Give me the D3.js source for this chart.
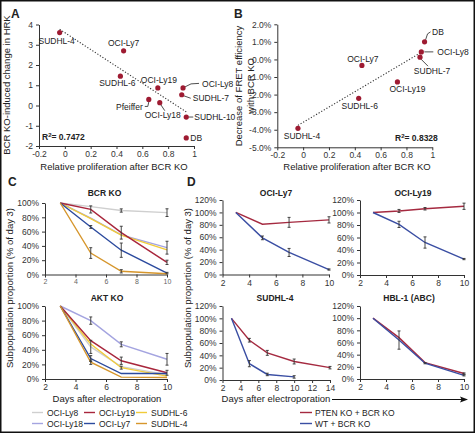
<!DOCTYPE html>
<html><head><meta charset="utf-8">
<script src="https://cdn.jsdelivr.net/npm/d3@7"></script>
<style>
body{margin:0;background:#fff}
svg{display:block}
</style></head><body>
<script>
// ---------------- DATA ----------------
// Panel A
const aCells = ["SUDHL-4","OCI-Ly7","SUDHL-6","OCI-Ly19","OCI-Ly8","SUDHL-7","Pfeiffer","OCI-Ly18","SUDHL-10","DB"];
const aProlif = [-0.04,0.455,0.43,0.72,0.915,0.905,0.65,0.735,0.94,0.94];
const aHRK = [3.6,2.7,1.45,0.87,0.87,0.53,0.3,0.14,-0.57,-1.6];
const aR2 = "0.7472";
// Panel B
const bCells = ["SUDHL-4","OCI-Ly7","SUDHL-6","OCI-Ly19","OCI-Ly8","SUDHL-7","DB"];
const bProlif = [-0.04,0.455,0.43,0.73,0.915,0.905,0.94];
const bFRET = [-3.92,-0.34,-2.21,-1.28,0.43,0.13,1.0];
const bR2 = "0.8328";
const prolifTicks = [-0.2,0,0.2,0.4,0.6,0.8,1];
const hrkTicks = [-2,-1,0,1,2,3,4];
const fretTicks = [-5,-4,-3,-2,-1,0,1,2];
// Panel C
const cCells = ["OCI-Ly8","OCI-Ly18","SUDHL-6","OCI-Ly19","OCI-Ly7","SUDHL-4"];
const cDays = [3,5,7,10];
const bcrKO = [
  [1,0.95,0.895,0.865],
  [1,0.79,0.555,0.375],
  [1,0.78,0.55,0.345],
  [1,0.91,0.585,0.17],
  [1,0.665,0.34,0.02],
  [1,0.30,0.045,0.01]];
const bcrKOErr = [
  [0,0,0.023,0.054],
  [0,0,0,0.09],
  [0,0,0,0],
  [0,0.05,0.09,0.03],
  [0,0.02,0.10,0.01],
  [0,0.075,0.023,0]];
const aktKO = [
  [1,0.44,0.17,0.06],
  [1,0.80,0.475,0.27],
  [1,0.48,0.155,0.04],
  [1,0.525,0.25,0.085],
  [1,0.28,0.075,0.075],
  [1,0.23,0.025,0.02]];
const aktKOErr = [
  [0,0.09,0,0],
  [0,0.05,0.034,0.08],
  [0,0,0.02,0],
  [0,0,0.05,0.034],
  [0,0.04,0,0],
  [0,0.03,0,0]];
const cXTicks = [2,4,6,8,10];
const pctTicks100 = [0,0.2,0.4,0.6,0.8,1];
// Panel D
const dSeries = ["PTEN KO + BCR KO","WT + BCR KO"];
const dDays = [3,5,7,10];
const dDaysLong = [3,5,7,10,14];
const ly7PTEN = [1,0.81,0.84,0.88],  ly7PTENErr = [0,0,0.08,0.05];
const ly7WT = [1,0.59,0.355,0.08],   ly7WTErr = [0,0.03,0.065,0.01];
const ly19PTEN = [1,1.025,1.06,1.10], ly19PTENErr = [0,0.024,0.02,0.05];
const ly19WT = [1,0.81,0.52,0.255],  ly19WTErr = [0,0.05,0.09,0.01];
const su4PTEN = [1,0.645,0.44,0.30,0.20], su4PTENErr = [0,0.03,0.04,0.04,0.02];
const su4WT = [1,0.265,0.09,0.05],   su4WTErr = [0,0.05,0.02,0.02];
const hblPTEN = [1,0.68,0.27,0.09],  hblPTENErr = [0,0,0,0.01];
const hblWT = [1,0.64,0.26,0.06],    hblWTErr = [0,0.15,0.01,0.01];
const pctTicks120 = [0,0.2,0.4,0.6,0.8,1,1.2];
const dXTicks = [2,4,6,8,10];
const dXTicksLong = [2,4,6,8,10,12,14];

// ---------------- STYLE / LAYOUT ----------------
const FONT = '"Liberation Sans Narrow","Arial Narrow","Liberation Sans",Arial,sans-serif';
const AX = "#333";
const DOT = "#9e1b32";
const cColors = ["#cfcfcf","#a4a4e0","#f1cb3a","#a8263c","#2b4a9e","#d6962c"];
const dColors = ["#a52a40","#3a4ea3"];

const W = 475, H = 433;
const svg = d3.select("body").append("svg").attr("width",W).attr("height",H);
svg.append("rect").attr("x",0.75).attr("y",0.75).attr("width",W-1.5).attr("height",H-1.5)
  .attr("fill","#fff").attr("stroke","#111").attr("stroke-width",1.5);

function txt(g, x, y, s, o={}) {
  return g.append("text").attr("x",x).attr("y",y).text(s)
    .attr("font-family",FONT).attr("font-size",o.fs||9)
    .attr("font-weight",o.bold?"bold":"normal")
    .attr("text-anchor",o.anchor||"start").attr("fill",o.fill||"#222");
}
function axes(g, x, y, o) {
  const xa = g.append("g").attr("transform",`translate(0,${y.range()[0]})`)
    .call(d3.axisBottom(x).tickValues(o.xTicks).tickFormat(o.xFmt).tickSizeInner(3).tickSizeOuter(0).tickPadding(2));
  const ya = g.append("g").attr("transform",`translate(${x.range()[0]},0)`)
    .call(d3.axisLeft(y).tickValues(o.yTicks).tickFormat(o.yFmt).tickSizeInner(3).tickSizeOuter(0));
  [xa,ya].forEach(a=>{
    a.select(".domain").attr("stroke",AX).attr("stroke-width",1);
    a.selectAll(".tick line").attr("stroke",AX);
    a.selectAll("text").attr("font-family",FONT).attr("font-size",o.fs||8.5).attr("fill","#333");
  });
  if (o.xfs) xa.selectAll("text").attr("font-size",o.xfs).attr("fill",o.xfill||"#333");
}
const numFmt = d => d===0 ? "0" : (Number.isInteger(d) ? String(d) : d.toFixed(1));
const pctFmt0 = d => Math.round(d*100)+"%";
const pctFmt1 = d => d.toFixed(1)+"%";

function regression(xs, ys) {
  const mx = d3.mean(xs), my = d3.mean(ys);
  let sxy=0, sxx=0;
  xs.forEach((v,i)=>{ sxy += (v-mx)*(ys[i]-my); sxx += (v-mx)*(v-mx); });
  const m = sxy/sxx; return {m, b: my - m*mx};
}

function scatter(g, x, y, xs, ys, names, lab) {
  const r = regression(xs, ys);
  const x0 = d3.min(xs), x1 = d3.max(xs);
  g.append("line").attr("x1",x(x0)).attr("y1",y(r.m*x0+r.b)).attr("x2",x(x1)).attr("y2",y(r.m*x1+r.b))
    .attr("stroke","#333").attr("stroke-width",1.1).attr("stroke-dasharray","1.2,1.8");
  names.forEach((n,i)=>{
    const px = x(xs[i]), py = y(ys[i]);
    const L = lab[i];
    if (L[3]) {
      g.append("polyline").attr("points",L[3].map(p=>[px+p[0],py+p[1]].join(",")).join(" "))
        .attr("fill","none").attr("stroke","#222").attr("stroke-width",0.8);
    }
    txt(g, px+L[0], py+L[1], n, {fs:8.5, anchor:L[2]});
  });
  g.selectAll("circle.pt").data(xs).join("circle").attr("class","pt")
    .attr("cx",(d)=>x(d)).attr("cy",(d,i)=>y(ys[i])).attr("r",2.6).attr("fill",DOT);
}
function r2(g, x, y, val) {
  const t = g.append("text").attr("x",x).attr("y",y).attr("font-family",FONT)
    .attr("font-size",8.5).attr("font-weight","bold").attr("fill","#222");
  t.append("tspan").text("R");
  t.append("tspan").text("2").attr("font-size",6).attr("dy",-3.5);
  t.append("tspan").text("= "+val).attr("dy",3.5);
}
function rotText(g, cx, cy, s, fs) {
  g.append("text").attr("transform",`translate(${cx},${cy}) rotate(-90)`).attr("text-anchor","middle")
    .attr("font-family",FONT).attr("font-size",fs).attr("fill","#222").text(s);
}
function errBars(g, x, y, days, vals, errs) {
  days.forEach((d,i)=>{
    const e = errs[i]; if (!e) return;
    const px = x(d), y1 = y(vals[i]-e), y2 = y(vals[i]+e);
    g.append("line").attr("x1",px).attr("x2",px).attr("y1",y1).attr("y2",y2).attr("stroke","#333").attr("stroke-width",0.9);
    [y1,y2].forEach(yy=>g.append("line").attr("x1",px-1.5).attr("x2",px+1.5).attr("y1",yy).attr("y2",yy).attr("stroke","#333").attr("stroke-width",0.9));
  });
}
function seriesLine(g, x, y, days, vals, color) {
  g.append("path").datum(days.map((d,i)=>[d,vals[i]]))
    .attr("d", d3.line().x(p=>x(p[0])).y(p=>y(p[1])))
    .attr("fill","none").attr("stroke",color).attr("stroke-width",1.4);
}

// ---------------- PANEL A ----------------
const gA = svg.append("g");
const xA = d3.scaleLinear([-0.2,1],[39,194]);
const yA = d3.scaleLinear([-2,4],[146,24.5]);
axes(gA, xA, yA, {xTicks:prolifTicks, yTicks:hrkTicks, xFmt:numFmt, yFmt:d=>String(d)});
const aLab = [
  [-3,11,"middle"],
  [0,-5,"middle"],
  [-3,10,"middle"],
  [1,-5,"middle"],
  [19,-1,"start",[[2,-1],[8,-4],[16,-4.5]]],
  [11,6.5,"start",[[2,1],[9,3.5]]],
  [-6,10.5,"end",[[0,2.5],[-1,7],[-4,7]]],
  [3,15,"middle",[[1,2],[5,8]]],
  [8,3,"start",[[2,0],[7,0]]],
  [4,3,"start"]];
scatter(gA, xA, yA, aProlif, aHRK, aCells, aLab);
r2(gA, 42, 140, aR2);
rotText(gA, 10, 85, "BCR KO-induced change in HRK", 9.5);
txt(gA, 114, 170, "Relative proliferation after BCR KO", {fs:9.5, anchor:"middle"});
txt(gA, 11, 18, "A", {fs:12, bold:true});

// ---------------- PANEL B ----------------
const gB = svg.append("g");
const xB = d3.scaleLinear([-0.2,1],[277.3,432.3]);
const yB = d3.scaleLinear([-5,2],[147.3,24.3]);
axes(gB, xB, yB, {xTicks:prolifTicks, yTicks:fretTicks, xFmt:numFmt, yFmt:pctFmt1});
const bLab = [
  [4,11,"middle"],
  [1,-3.5,"middle"],
  [1,11,"middle"],
  [10,10,"middle"],
  [16,3,"start",[[3,0],[12,0]]],
  [12,16.5,"middle",[[1,2],[8,9]]],
  [7.5,-7,"start",[[1,-2],[3,-8],[6,-10]]]];
scatter(gB, xB, yB, bProlif, bFRET, bCells, bLab);
r2(gB, 395, 141, bR2);
rotText(gB, 242, 86, "Decrease of FRET efficiency", 9.5);
rotText(gB, 254, 86, "with BCR KO", 9.5);
txt(gB, 357, 170, "Relative proliferation after BCR KO", {fs:9.5, anchor:"middle"});
txt(gB, 234, 18, "B", {fs:12, bold:true});

// ---------------- PANEL C ----------------
const gC = svg.append("g");
const xC = d3.scaleLinear([2,10],[45,167]);
const yC1 = d3.scaleLinear([0,1],[274.5,203]);
const yC2 = d3.scaleLinear([0,1],[379,306]);
axes(gC, xC, yC1, {xTicks:cXTicks, yTicks:pctTicks100, xFmt:d=>d, yFmt:pctFmt0, xfs:7, xfill:"#666"});
axes(gC, xC, yC2, {xTicks:cXTicks, yTicks:pctTicks100, xFmt:d=>d, yFmt:pctFmt0});
cCells.forEach((c,i)=>seriesLine(gC, xC, yC1, cDays, bcrKO[i], cColors[i]));
cCells.forEach((c,i)=>errBars(gC, xC, yC1, cDays, bcrKO[i], bcrKOErr[i]));
cCells.forEach((c,i)=>seriesLine(gC, xC, yC2, cDays, aktKO[i], cColors[i]));
cCells.forEach((c,i)=>errBars(gC, xC, yC2, cDays, aktKO[i], aktKOErr[i]));
txt(gC, 104.5, 196, "BCR KO", {fs:8.5, bold:true, anchor:"middle"});
txt(gC, 107, 301, "AKT KO", {fs:8.5, bold:true, anchor:"middle"});
rotText(gC, 13, 288, "Subpopulation proportion (% of day 3)", 9.5);
txt(gC, 107, 402, "Days after electroporation", {fs:9.5, anchor:"middle"});
txt(gC, 8, 186, "C", {fs:12, bold:true});
const cLegOrder = [0,3,2,1,4,5];
cLegOrder.forEach((idx,k)=>{
  const col = k%3, row = Math.floor(k/3);
  const lx = [32,84,136][col], ly = [412.5,423.5][row];
  gC.append("line").attr("x1",lx).attr("x2",lx+11).attr("y1",ly).attr("y2",ly).attr("stroke",cColors[idx]).attr("stroke-width",1.4);
  txt(gC, lx+15, ly+3, cCells[idx], {fs:8.5});
});

// ---------------- PANEL D ----------------
const gD = svg.append("g");
function dPlot(xr, yr, xdom, xt, title, tx, ty, sets) {
  const x = d3.scaleLinear(xdom, xr), y = d3.scaleLinear([0,1.2], yr);
  axes(gD, x, y, {xTicks:xt, yTicks:pctTicks120, xFmt:d=>d, yFmt:pctFmt0, fs:8.5});
  sets.forEach((s,i)=>seriesLine(gD, x, y, s[0], s[1], dColors[i]));
  sets.forEach((s,i)=>errBars(gD, x, y, s[0], s[1], s[2]));
  txt(gD, tx, ty, title, {fs:8.5, bold:true, anchor:"middle"});
}
dPlot([222.5,329],[274.5,200],[2,10],dXTicks,"OCI-Ly7",276,196,
  [[dDays,ly7PTEN,ly7PTENErr],[dDays,ly7WT,ly7WTErr]]);
dPlot([360,464],[275,200],[2,10],dXTicks,"OCI-Ly19",413,196,
  [[dDays,ly19PTEN,ly19PTENErr],[dDays,ly19WT,ly19WTErr]]);
dPlot([222.5,330],[380,306],[2,14],dXTicksLong,"SUDHL-4",275,301,
  [[dDaysLong,su4PTEN,su4PTENErr],[dDays,su4WT,su4WTErr]]);
dPlot([360,464],[379,306],[2,10],dXTicks,"HBL-1 (ABC)",409,301,
  [[dDays,hblPTEN,hblPTENErr],[dDays,hblWT,hblWTErr]]);
rotText(gD, 191, 288, "Subpopulation proportion (% of day 3)", 9.5);
txt(gD, 276, 402, "Days after electroporation", {fs:9.5, anchor:"middle"});
gD.append("line").attr("x1",332).attr("x2",462).attr("y1",399.5).attr("y2",399.5).attr("stroke","#111").attr("stroke-width",1);
gD.append("path").attr("d","M468,399.5 L460,396.5 L461.5,399.5 L460,402.5 Z").attr("fill","#111");
txt(gD, 187, 186, "D", {fs:12, bold:true});
dSeries.forEach((s,i)=>{
  const ly = [412.5,423.5][i];
  gD.append("line").attr("x1",300).attr("x2",312).attr("y1",ly).attr("y2",ly).attr("stroke",dColors[i]).attr("stroke-width",1.4);
  txt(gD, 315, ly+3, s, {fs:8.5});
});
</script>
</body></html>
